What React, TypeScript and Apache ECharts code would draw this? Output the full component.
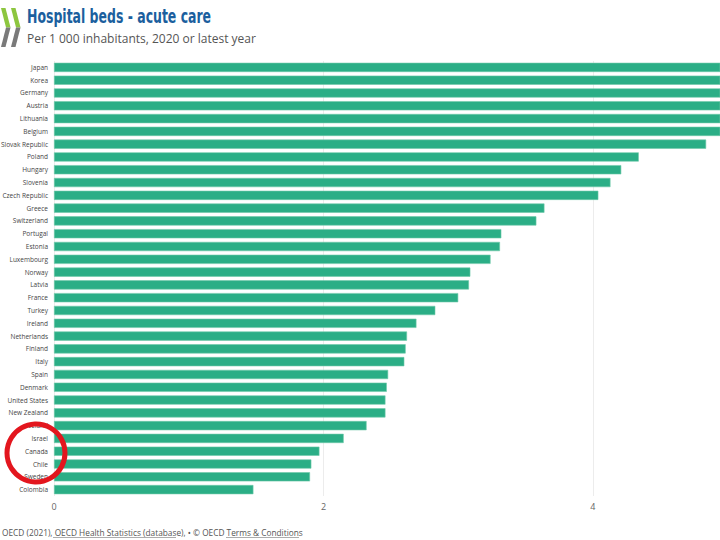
import React, { useEffect, useRef } from "react";
import * as echarts from "echarts";

const countries: string[] = [
  "Japan", "Korea", "Germany", "Austria", "Lithuania", "Belgium", "Slovak Republic",
  "Poland", "Hungary", "Slovenia", "Czech Republic", "Greece", "Switzerland", "Portugal",
  "Estonia", "Luxembourg", "Norway", "Latvia", "France", "Turkey", "Ireland", "Netherlands",
  "Finland", "Italy", "Spain", "Denmark", "United States", "New Zealand", "Iceland",
  "Israel", "Canada", "Chile", "Sweden", "Colombia",
];

const bedsPer1000: number[] = [
  7.7, 7.1, 5.9, 5.3, 5.1, 5.0, 4.84,
  4.34, 4.21, 4.13, 4.04, 3.64, 3.58, 3.32,
  3.31, 3.24, 3.09, 3.08, 3.0, 2.83, 2.69, 2.62,
  2.61, 2.60, 2.48, 2.47, 2.46, 2.46, 2.32,
  2.15, 1.97, 1.91, 1.90, 1.48,
];

const xTicks: number[] = [0, 2, 4];

const TITLE = "Hospital beds - acute care";
const SUBTITLE = "Per 1 000 inhabitants, 2020 or latest year";

function chevron(ox: number) {
  return [
    {
      type: "polygon",
      shape: { points: [[ox, 8], [ox + 4.5, 8], [ox + 9.5, 27.5], [ox + 5, 27.5]] },
      style: { fill: "#8dc63f" },
    },
    {
      type: "polygon",
      shape: { points: [[ox + 5, 27.5], [ox + 9.5, 27.5], [ox + 4.5, 47], [ox, 47]] },
      style: { fill: "#7a7a7a" },
    },
  ];
}

export default function App() {
  const ref = useRef<HTMLDivElement>(null);
  useEffect(() => {
    if (!ref.current) return;
    const chart = echarts.init(ref.current, null, { renderer: "svg" });
    const footY = 532;
    const footFont = '8.3px "Open Sans", "Noto Sans", sans-serif';
    chart.setOption({
      animation: false,
      backgroundColor: "#ffffff",
      grid: {
        left: 54,
        right: 0,
        top: 61,
        bottom: 44,
        containLabel: false,
        outerBoundsMode: "none",
      },
      xAxis: {
        type: "value",
        min: 0,
        max: 4.943,
        interval: 2,
        axisLine: { show: false },
        axisTick: { show: false },
        splitLine: { show: true, lineStyle: { color: "#ececec", width: 1 } },
        axisLabel: {
          color: "#666",
          fontSize: 9,
          fontFamily: '"Open Sans", "Noto Sans", sans-serif',
          margin: 6,
          formatter: (v: number) => (xTicks.indexOf(v) >= 0 ? String(v) : ""),
        },
      },
      yAxis: {
        type: "category",
        inverse: true,
        data: countries,
        axisLine: { show: false },
        axisTick: { show: false },
        axisLabel: {
          color: "#444",
          fontSize: 6.5,
          fontFamily: '"Open Sans", "Noto Sans", sans-serif',
          margin: 6,
        },
      },
      series: [
        {
          type: "bar",
          data: bedsPer1000,
          barCategoryGap: "28%",
          itemStyle: { color: "#2bae86", borderColor: "#6fcaa9", borderWidth: 0.6 },
          clip: true,
        },
      ],
      graphic: [
        ...chevron(1),
        ...chevron(11),
        {
          type: "text",
          x: 27,
          y: 7,
          scaleX: 0.73,
          style: {
            text: TITLE,
            fill: "#1c5f9e",
            font: 'bold 19px "DejaVu Sans Condensed", "DejaVu Sans", sans-serif',
          },
        },
        {
          type: "text",
          x: 27,
          y: 32,
          style: {
            text: SUBTITLE,
            fill: "#555",
            font: '12px "Open Sans", "Noto Sans", sans-serif',
          },
        },
        {
          type: "text",
          x: 2,
          y: footY,
          style: {
            text: "OECD (2021), OECD Health Statistics (database), \u2022 \u00a9 OECD Terms & Conditions",
            fill: "#555",
            font: footFont,
            verticalAlign: "middle",
          },
        },
        {
          type: "line",
          shape: { x1: 53, y1: footY + 5.5, x2: 176, y2: footY + 5.5 },
          style: { stroke: "#888", lineWidth: 0.7 },
        },
        {
          type: "line",
          shape: { x1: 226, y1: footY + 5.5, x2: 299, y2: footY + 5.5 },
          style: { stroke: "#888", lineWidth: 0.7 },
        },
        {
          type: "circle",
          shape: { cx: 36, cy: 453, r: 29 },
          style: { fill: "none", stroke: "#e3161e", lineWidth: 5 },
          z: 100,
        },
      ],
    });
    return () => chart.dispose();
  }, []);
  return (
    <div
      ref={ref}
      style={{ position: "fixed", left: 0, top: 0, width: 720, height: 540 }}
    />
  );
}
